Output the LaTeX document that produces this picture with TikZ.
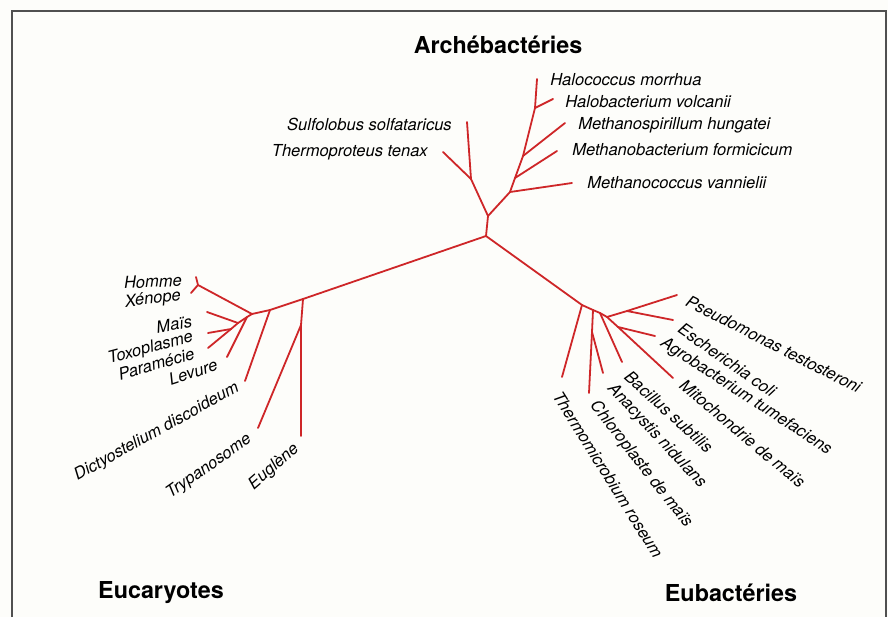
\documentclass[tikz,border=0pt]{standalone}
\usepackage{fontspec}
\setmainfont{TeX Gyre Heros}
\definecolor{treered}{RGB}{206,38,40}
\definecolor{framegray}{RGB}{80,80,80}
\definecolor{paper}{RGB}{253,253,250}
\begin{document}
\begin{tikzpicture}[x=0.75pt,y=-0.75pt,
    branch/.style={treered, line width=1.35pt, line cap=round, line join=round},
    taxon/.style={inner sep=0pt, font=\fontsize{12.4}{14}\selectfont\itshape},
    kingdom/.style={inner sep=0pt, font=\fontsize{17.5}{20}\selectfont\bfseries}]
  \fill[paper] (0,0) rectangle (888,617);
  \useasboundingbox (0,0) rectangle (888,617);
  \draw[framegray, line width=1.5pt] (12,617) -- (12,11) -- (886,11) -- (886,617);

  % tree nodes
  \coordinate (root) at (486,236);
  \coordinate (arch) at (488,216);
  \coordinate (cren) at (471,179);
  \coordinate (sulfT) at (467,122);
  \coordinate (thprT) at (443,152);
  \coordinate (eur1) at (510,192);
  \coordinate (eur2) at (515,178);
  \coordinate (eur3) at (523,156);
  \coordinate (eur4) at (535,108);
  \coordinate (hcocT) at (537,79);
  \coordinate (hbacT) at (553,99);
  \coordinate (mspiT) at (565,123);
  \coordinate (mbacT) at (557,151);
  \coordinate (mcocT) at (572,183);

  \coordinate (euk1) at (303,299);
  \coordinate (tryp0) at (301,325);
  \coordinate (eugT) at (301,436);
  \coordinate (trypT) at (258,428);
  \coordinate (euk2) at (270,310);
  \coordinate (dictT) at (245,381);
  \coordinate (euk3) at (252,314);
  \coordinate (homx) at (198,285);
  \coordinate (homT) at (196,277);
  \coordinate (xenT) at (191,293);
  \coordinate (lev0) at (247,317);
  \coordinate (levT) at (227,357);
  \coordinate (mtp) at (238,323);
  \coordinate (maisT) at (207,312);
  \coordinate (tox0) at (231,329);
  \coordinate (toxT) at (208,333);
  \coordinate (parT) at (208,348);

  \coordinate (bac1) at (582,305);
  \coordinate (thmiT) at (562,377);
  \coordinate (bac2) at (593,310);
  \coordinate (chloT) at (589,393);
  \coordinate (ana0) at (592,332);
  \coordinate (anaT) at (603,373);
  \coordinate (bsu0) at (600,313);
  \coordinate (bsuT) at (622,362);
  \coordinate (bac3) at (607,317);
  \coordinate (pseT) at (677,295);
  \coordinate (esc0) at (627,311);
  \coordinate (escT) at (673,320);
  \coordinate (mitT) at (673,378);
  \coordinate (agr0) at (618,327);
  \coordinate (agrT) at (655,336);

  % branches
  \draw[branch] (root) -- (arch);
  \draw[branch] (arch) -- (cren) -- (sulfT);
  \draw[branch] (cren) -- (thprT);
  \draw[branch] (arch) -- (eur1) -- (eur2) -- (eur3) -- (eur4) -- (hcocT);
  \draw[branch] (eur4) -- (hbacT);
  \draw[branch] (eur3) -- (mspiT);
  \draw[branch] (eur2) -- (mbacT);
  \draw[branch] (eur1) -- (mcocT);

  \draw[branch] (root) -- (euk1) -- (tryp0) -- (eugT);
  \draw[branch] (tryp0) -- (trypT);
  \draw[branch] (euk1) -- (euk2) -- (euk3) -- (homx) -- (homT);
  \draw[branch] (homx) -- (xenT);
  \draw[branch] (euk2) -- (dictT);
  \draw[branch] (euk3) -- (lev0) -- (mtp) -- (maisT);
  \draw[branch] (lev0) -- (levT);
  \draw[branch] (mtp) -- (tox0) -- (parT);
  \draw[branch] (tox0) -- (toxT);

  \draw[branch] (root) -- (bac1) -- (thmiT);
  \draw[branch] (bac1) -- (bac2) -- (ana0) -- (chloT);
  \draw[branch] (ana0) -- (anaT);
  \draw[branch] (bac2) -- (bsu0) -- (bac3) -- (esc0) -- (pseT);
  \draw[branch] (bsu0) -- (bsuT);
  \draw[branch] (esc0) -- (escT);
  \draw[branch] (bac3) -- (agr0) -- (mitT);
  \draw[branch] (agr0) -- (agrT);

  % labels
  \node[kingdom] (archeb) at (498,45) {Archébactéries};
  \node[kingdom] (eucar) at (161,593) {Eucaryotes};
  \node[kingdom] (eubac) at (731,593) {Eubactéries};

  \node[taxon, anchor=west] (hcoc) at (550,80) {Halococcus morrhua};
  \node[taxon, anchor=west] (hbac) at (565,102) {Halobacterium volcanii};
  \node[taxon, anchor=west] (mspi) at (578,125) {Methanospirillum hungatei};
  \node[taxon, anchor=west] (mbac) at (572,150) {Methanobacterium formicicum};
  \node[taxon, anchor=west] (mcoc) at (587,183) {Methanococcus vannielii};
  \node[taxon, anchor=east] (sulf) at (452,124) {Sulfolobus solfataricus};
  \node[taxon, anchor=east] (thpr) at (428,152) {Thermoproteus tenax};

  \node[taxon, anchor=east, rotate=3] (hom) at (182,280) {Homme};
  \node[taxon, anchor=east, rotate=7] (xen) at (181,296) {Xénope};
  \node[taxon, anchor=east, rotate=10] (mais) at (192,321) {Maïs};
  \node[taxon, anchor=east, rotate=15] (tox) at (193,337) {Toxoplasme};
  \node[taxon, anchor=east, rotate=16] (par) at (194,353) {Paramécie};
  \node[taxon, anchor=east, rotate=18] (lev) at (217,364) {Levure};
  \node[taxon, anchor=east, rotate=29] (dict) at (238,387) {Dictyostelium discoideum};
  \node[taxon, anchor=east, rotate=35] (tryp) at (250,438) {Trypanosome};
  \node[taxon, anchor=east, rotate=41] (eug) at (297,447) {Euglène};

  \node[taxon, anchor=west, rotate=-27] (pse) at (687,300) {Pseudomonas testosteroni};
  \node[taxon, anchor=west, rotate=-35] (esc) at (680,327) {Escherichia coli};
  \node[taxon, anchor=west, rotate=-33] (agr) at (662,342) {Agrobacterium tumefaciens};
  \node[taxon, anchor=west, rotate=-40] (mit) at (682,383) {Mitochondrie de maïs};
  \node[taxon, anchor=west, rotate=-42] (bsu) at (627,374) {Bacillus subtilis};
  \node[taxon, anchor=west, rotate=-47] (ana) at (610,386) {Anacystis nidulans};
  \node[taxon, anchor=west, rotate=-52] (chlo) at (593,403) {Chloroplaste de maïs};
  \node[taxon, anchor=west, rotate=-58] (thmi) at (557,393) {Thermomicrobium roseum};
\end{tikzpicture}
\end{document}
